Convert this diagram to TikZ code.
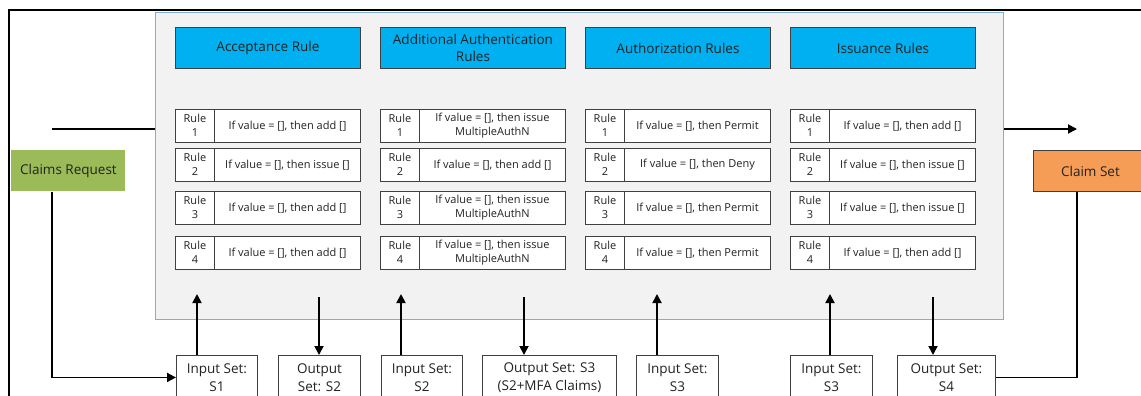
\documentclass[tikz,border=0pt]{standalone}
\usepackage{fontspec}
\setmainfont{Open Sans}
\usetikzlibrary{arrows.meta}
\definecolor{panelfill}{HTML}{F2F2F2}
\definecolor{panelline}{HTML}{7FAEDB}
\definecolor{hdrfill}{HTML}{00B0F0}
\definecolor{boxline}{HTML}{404040}
\definecolor{reqfill}{HTML}{9BBB59}
\definecolor{setfill}{HTML}{F59D56}
\definecolor{txt}{HTML}{222222}
\begin{document}
\begin{tikzpicture}[x=1pt,y=-1pt,
  hdr/.style={draw=boxline, line width=0.9pt, fill=hdrfill, minimum width=185pt, minimum height=41pt,
    anchor=north west, inner sep=0pt, align=center, text=txt, font=\fontsize{13.5}{17}\selectfont},
  rulecell/.style={draw=boxline, line width=0.9pt, fill=white, minimum width=39pt, minimum height=32.5pt,
    anchor=north west, inner sep=0pt, align=center, text=txt, font=\fontsize{11}{14}\selectfont},
  textcell/.style={rulecell, minimum width=146pt},
  setbox/.style={draw=boxline, line width=0.9pt, fill=white, minimum height=44pt, anchor=north west,
    inner sep=0pt, align=center, text=txt, font=\fontsize{13.5}{18}\selectfont},
  ln/.style={line width=1.8pt, black},
  arr/.style={ln, -{Triangle[length=9pt,width=9pt]}},
  colbox/.style={line width=0.9pt, minimum height=41pt, anchor=north west, inner sep=0pt, text=txt,
    font=\fontsize{13.5}{15}\selectfont}
]
\useasboundingbox (0,0) rectangle (1141,396);
\clip (0,0) rectangle (1141,396);

% outer frame
\draw[line width=2pt] (9,400) -- (9,10) -- (1145,10);

% panel
\node[draw=panelline, line width=1.4pt, fill=panelfill, minimum width=848pt, minimum height=307pt,
  anchor=north west, inner sep=0pt] (panel) at (155,12) {};

% headers
\node[hdr] (h1) at (175,27) {Acceptance Rule};
\node[hdr] (h2) at (380,27) {Additional Authentication\\Rules};
\node[hdr] (h3) at (585,27) {Authorization Rules};
\node[hdr] (h4) at (790,27) {Issuance Rules};

% rules column 1
\node[rulecell] (r11) at (175,109) {Rule\\1};
\node[textcell] (t11) at (214,109) {If value = [], then add []};
\node[rulecell] (r12) at (175,148) {Rule\\2};
\node[textcell] (t12) at (214,148) {If value = [], then issue []};
\node[rulecell] (r13) at (175,191) {Rule\\3};
\node[textcell] (t13) at (214,191) {If value = [], then add []};
\node[rulecell] (r14) at (175,236) {Rule\\4};
\node[textcell] (t14) at (214,236) {If value = [], then add []};
% column 2
\node[rulecell] (r21) at (380,109) {Rule\\1};
\node[textcell] (t21) at (419,109) {If value = [], then issue\\MultipleAuthN};
\node[rulecell] (r22) at (380,148) {Rule\\2};
\node[textcell] (t22) at (419,148) {If value = [], then add []};
\node[rulecell] (r23) at (380,191) {Rule\\3};
\node[textcell] (t23) at (419,191) {If value = [], then issue\\MultipleAuthN};
\node[rulecell] (r24) at (380,236) {Rule\\4};
\node[textcell] (t24) at (419,236) {If value = [], then issue\\MultipleAuthN};
% column 3
\node[rulecell] (r31) at (585,109) {Rule\\1};
\node[textcell] (t31) at (624,109) {If value = [], then Permit};
\node[rulecell] (r32) at (585,148) {Rule\\2};
\node[textcell] (t32) at (624,148) {If value = [], then Deny};
\node[rulecell] (r33) at (585,191) {Rule\\3};
\node[textcell] (t33) at (624,191) {If value = [], then Permit};
\node[rulecell] (r34) at (585,236) {Rule\\4};
\node[textcell] (t34) at (624,236) {If value = [], then Permit};
% column 4
\node[rulecell] (r41) at (790,109) {Rule\\1};
\node[textcell] (t41) at (829,109) {If value = [], then add []};
\node[rulecell] (r42) at (790,148) {Rule\\2};
\node[textcell] (t42) at (829,148) {If value = [], then issue []};
\node[rulecell] (r43) at (790,191) {Rule\\3};
\node[textcell] (t43) at (829,191) {If value = [], then issue []};
\node[rulecell] (r44) at (790,236) {Rule\\4};
\node[textcell] (t44) at (829,236) {If value = [], then add []};

% side boxes
\node[colbox, fill=reqfill, minimum width=114pt] (req) at (11,150) {Claims Request};
\node[colbox, fill=setfill, draw=boxline, minimum width=114pt] (cs) at (1033,150) {Claim Set};

% bottom set boxes
\node[setbox, minimum width=81pt] (in1) at (176,355) {Input Set:\\S1};
\node[setbox, minimum width=82pt] (out2) at (278,355) {Output\\Set: S2};
\node[setbox, minimum width=81pt] (in2) at (381,355) {Input Set:\\S2};
\node[setbox, minimum width=134pt] (out3) at (482,355) {Output Set: S3\\(S2+MFA Claims)};
\node[setbox, minimum width=82pt] (in3) at (636,355) {Input Set:\\S3};
\node[setbox, minimum width=82pt] (in4) at (790,355) {Input Set:\\S3};
\node[setbox, minimum width=98pt] (out4) at (897,355) {Output Set:\\S4};

% free ends
\coordinate (lin) at (52,129);
\coordinate (rout) at (1077,129);
\coordinate (a1) at (197,294);
\coordinate (a2) at (319,297);
\coordinate (a3) at (401,294);
\coordinate (a4) at (524,297);
\coordinate (a5) at (657,294);
\coordinate (a6) at (830,294);
\coordinate (a7) at (933,297);

% connectors
\draw[ln] (lin) -- (lin -| panel.west);
\draw[arr] (rout -| panel.east) -- (rout);
\draw[arr] (req.south -| lin) |- (in1.west);
\draw[ln] (out4.east) -| (rout |- cs.south);
\draw[arr] (in1.north -| a1) -- (a1);
\draw[arr] (a2) -- (out2.north -| a2);
\draw[arr] (in2.north -| a3) -- (a3);
\draw[arr] (a4) -- (out3.north -| a4);
\draw[arr] (in3.north -| a5) -- (a5);
\draw[arr] (in4.north -| a6) -- (a6);
\draw[arr] (a7) -- (out4.north -| a7);
\end{tikzpicture}
\end{document}
